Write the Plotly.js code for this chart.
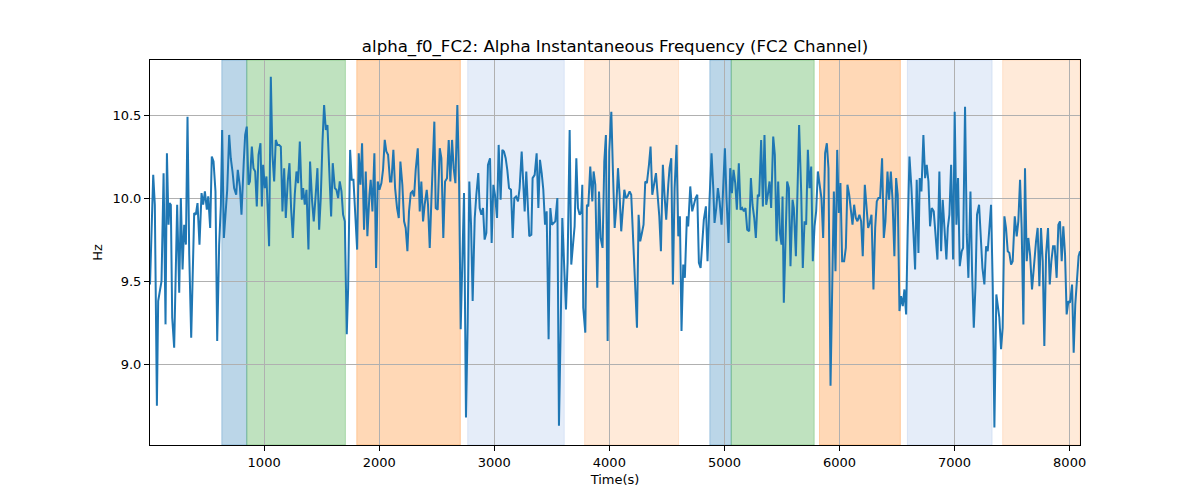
<!DOCTYPE html>
<html>
<head>
<meta charset="utf-8">
<script src="https://cdn.plot.ly/plotly-3.0.1.min.js"></script>
<style>html,body{margin:0;padding:0;background:#fff;}#chart{width:1200px;height:500px;}</style>
</head>
<body>
<div id="chart"></div>
<script>
// Time (s)
const timeSec = [8,36,50,68,79,108,126,143,155,169,178,189,201,218,244,262,276,291,305,320,334,349,366,392,406,421,438,456,470,485,502,514,531,545,560,577,592,609,624,635,650,667,679,696,710,725,739,757,771,
789,803,823,835,849,864,876,893,907,922,936,951,968,980,991,1006,1020,1029,1043,1058,1072,1087,1101,1116,1130,1145,1159,1174,1188,1205,1220,1234,1249,1266,1281,1295,1310,1327,1339,1353,1368,1385,1399,1417,1431,1446,1463,1478,1492,1507,1521,1536,1550,1564,1582,1596,
1614,1628,1643,1657,1672,1686,1701,1718,1730,1747,1761,1776,1793,1808,1822,1837,1851,1868,1883,1897,1915,1926,1941,1958,1973,1987,2002,2019,2033,2048,2062,2077,2094,2106,2123,2138,2155,2170,2184,2201,2216,2230,2245,2259,2274,2288,2303,2317,2335,2352,2366,2381,2395,2413,2424,
2439,2453,2479,2491,2508,2526,2540,2557,2572,2589,2604,2618,2633,2647,2662,2679,2694,2708,2723,2737,2754,2769,2783,2798,2812,2830,2844,2861,2873,2888,2902,2916,2931,2945,2963,2977,2992,3006,3024,3038,3055,3070,3084,3099,3113,3128,3145,3160,3174,3189,3206,3220,3238,3249,
3264,3278,3293,3304,3322,3333,3351,3368,3383,3397,3412,3426,3441,3455,3472,3487,3501,3516,3530,3548,3562,3577,3591,3608,3623,3637,3655,3669,3684,3698,3713,3727,3742,3756,3765,3773,3791,3805,3817,3834,3852,3863,3878,3895,3910,3924,3941,3956,3970,3985,3999,4017,4031,4046,4060,4075,
4089,4103,4130,4144,4158,4176,4190,4205,4222,4240,4254,4268,4283,4297,4312,4326,4344,4358,4373,4387,4405,4419,4434,4448,4465,4480,4494,4512,4523,4538,4552,4567,4584,4599,4613,4627,4642,4656,4674,4685,4703,4720,4735,4749,4764,4778,4793,4807,4821,4839,4853,4871,4888,4903,
4914,4929,4943,4958,4975,4989,5004,5018,5036,5050,5065,5079,5094,5108,5125,5140,5154,5169,5183,5198,5215,5230,5244,5259,5273,5290,5302,5319,5334,5348,5363,5377,5392,5406,5424,5438,5453,5467,5482,5496,5505,5516,5531,5545,5560,5574,5592,5603,5621,5635,5649,5667,5681,5696,5710,5725,
5739,5754,5768,5783,5797,5812,5826,5843,5858,5875,5890,5904,5922,5936,5951,5965,5980,5994,6008,6023,6040,6055,6069,6084,6098,6113,6127,6142,6156,6173,6188,6202,6220,6234,6249,6263,6278,6295,6310,6324,6338,6353,6370,6385,6399,6417,6431,6446,6460,6477,6492,6506,6521,6535,6550,
6564,6579,6593,6608,6625,6640,6657,6671,6686,6697,6712,6729,6744,6758,6773,6787,6802,6819,6836,6851,6868,6883,6897,6912,6929,6941,6955,6970,6987,7001,7016,7030,7045,7062,7074,7091,7106,7120,7138,7152,7167,7181,7195,7213,7227,7242,7259,7274,7288,7305,7317,7332,7346,7363,7378,
7389,7404,7418,7433,7447,7462,7476,7491,7505,7523,7540,7554,7569,7583,7598,7612,7627,7641,7656,7673,7690,7708,7722,7737,7751,7766,7780,7795,7812,7827,7841,7856,7870,7887,7902,7916,7931,7945,7960,7974,7989,8003,8021,8035,8049,8064,8078,8090];

// Alpha instantaneous frequency (Hz)
const freqHz = [9.48,10.14,9.96,8.75,9.38,9.50,10.15,9.24,10.27,9.84,9.97,9.96,9.28,9.10,9.96,9.43,10.00,9.57,9.84,9.72,10.49,9.66,9.16,9.91,9.90,9.97,9.72,10.03,9.96,10.04,9.93,10.01,9.82,10.25,10.22,10.04,9.14,9.72,9.96,10.41,9.76,9.96,10.05,10.38,10.24,10.16,10.06,10.02,10.17,
10.07,9.90,10.22,10.38,10.43,10.08,10.10,10.31,10.18,10.16,9.95,10.26,10.33,9.95,10.20,10.06,10.13,10.00,9.71,10.73,10.26,10.10,10.35,10.32,10.32,10.31,9.92,10.18,9.88,10.10,10.21,9.94,9.76,10.02,10.16,10.09,10.34,9.99,10.06,9.96,10.05,9.69,10.22,9.98,9.86,10.00,10.18,9.81,10.00,10.34,10.56,10.41,10.44,10.20,9.89,10.21,
10.06,10.05,10.00,10.10,10.04,9.90,9.86,9.18,9.46,10.29,10.11,10.11,9.92,9.69,10.27,10.08,10.33,9.81,10.16,9.77,10.02,10.11,9.92,10.27,9.58,10.10,10.05,10.09,10.17,10.35,10.28,10.26,10.10,10.10,10.29,10.06,9.94,9.88,10.22,10.08,9.86,9.82,9.68,9.92,10.03,10.04,10.01,10.17,10.30,9.92,10.10,9.86,9.96,10.05,9.96,
9.70,9.98,10.46,9.94,9.93,10.30,10.24,9.76,10.10,10.12,10.35,10.10,10.35,10.18,10.09,10.56,10.10,9.21,9.58,10.03,8.68,9.26,10.10,9.84,9.38,9.88,10.02,10.15,9.94,9.90,9.94,9.75,9.79,10.20,10.24,9.73,10.08,10.02,9.88,10.32,9.99,10.29,10.28,10.24,10.17,10.06,10.05,9.76,10.00,10.01,9.98,10.06,10.28,10.10,
9.92,10.16,9.94,9.77,9.78,10.12,10.14,10.27,9.94,10.23,10.15,10.05,9.84,9.92,9.15,9.94,9.84,9.85,9.86,10.00,8.63,9.22,9.88,9.58,9.33,9.61,10.41,9.60,9.75,9.83,10.24,9.94,9.90,9.92,10.08,9.34,9.19,9.96,9.95,10.19,9.98,10.16,10.08,9.46,10.04,9.76,9.70,10.22,10.38,9.14,10.28,10.52,10.16,9.82,9.94,10.18,
10.02,9.80,10.05,10.00,10.01,10.04,10.02,9.78,9.56,9.22,9.90,9.74,9.79,9.84,10.10,10.09,10.20,10.31,10.02,10.08,10.15,10.02,9.89,9.68,10.20,10.01,9.87,10.08,10.18,10.24,9.48,10.06,10.32,9.77,9.89,9.20,9.60,9.52,9.89,9.83,10.07,9.92,9.97,10.00,10.02,9.61,9.58,9.76,9.87,9.95,9.62,10.00,10.27,10.06,
9.85,9.94,10.06,9.98,9.84,10.06,10.30,10.00,9.73,10.18,10.03,10.17,10.09,9.93,10.21,9.93,9.94,9.92,9.94,9.81,9.80,10.12,9.96,9.88,9.76,10.02,10.01,10.35,9.95,10.38,9.96,10.02,10.10,9.94,10.37,10.26,9.74,10.10,9.79,9.72,10.01,9.37,9.81,10.10,10.06,9.59,9.99,9.94,9.65,10.10,10.44,10.04,9.58,9.86,9.84,10.29,
10.06,10.19,9.62,9.83,9.92,10.16,10.08,10.00,9.76,10.27,10.33,10.18,8.87,9.60,10.04,9.56,10.29,9.91,10.09,9.62,9.62,9.70,10.08,10.02,9.94,9.84,9.96,9.88,9.86,9.90,9.86,9.65,10.08,9.97,9.82,9.85,9.90,9.45,9.82,9.98,10.00,10.00,10.24,9.76,9.86,10.16,9.99,10.16,10.00,9.65,10.12,10.02,9.32,9.41,9.35,
9.45,9.30,9.82,10.25,10.06,9.86,9.57,10.11,9.67,10.12,10.04,10.38,10.12,10.20,10.10,9.83,9.94,9.92,9.76,9.63,10.16,9.68,9.99,9.82,9.63,9.82,9.90,10.20,9.63,10.52,9.84,10.12,9.59,9.68,9.70,10.55,9.78,9.52,10.04,9.56,9.22,9.46,9.90,9.96,9.76,9.58,9.48,9.71,9.68,9.82,9.96,9.46,8.62,9.42,9.34,
9.28,9.09,9.22,9.89,9.82,9.68,9.67,9.60,9.62,9.89,9.77,9.86,10.11,9.82,9.24,10.18,9.62,9.76,9.66,9.45,9.62,9.74,9.82,9.47,9.82,9.62,9.11,9.66,9.82,9.48,9.62,9.71,9.71,9.52,9.84,9.86,9.62,9.83,9.66,9.30,9.38,9.37,9.48,9.07,9.36,9.50,9.65,9.68];

// Shaded epochs
const bandStart = [632, 849, 1805, 2769, 3785, 4873, 5059, 5826, 6590, 7418];
const bandEnd   = [849, 1706, 2705, 3608, 4601, 5059, 5780, 6529, 7326, 8090];
const bandColor = [
  'rgba(31,119,180,0.3)', 'rgba(44,160,44,0.3)', 'rgba(255,127,14,0.3)', 'rgba(100,149,220,0.17)', 'rgba(255,160,80,0.22)',
  'rgba(31,119,180,0.3)', 'rgba(44,160,44,0.3)', 'rgba(255,127,14,0.3)', 'rgba(100,149,220,0.17)', 'rgba(255,160,80,0.22)'
];

const xTicks = [1000, 2000, 3000, 4000, 5000, 6000, 7000, 8000];
const yTicks = [9.0, 9.5, 10.0, 10.5];

const shapes = bandStart.map((s, i) => ({
  type: 'rect', xref: 'x', yref: 'paper', x0: s, x1: bandEnd[i], y0: 0, y1: 1,
  fillcolor: bandColor[i], line: {color: bandColor[i], width: 1}, layer: 'below'
}));

const trace = {
  x: timeSec, y: freqHz, type: 'scatter', mode: 'lines',
  line: {color: '#1f77b4', width: 2}, hoverinfo: 'x+y'
};

const font = {family: 'DejaVu Sans, sans-serif', color: '#000'};

const layout = {
  width: 1200, height: 500,
  margin: {l: 150, r: 120, t: 60, b: 55},
  paper_bgcolor: '#fff', plot_bgcolor: 'rgba(0,0,0,0)',
  showlegend: false,
  title: {text: 'alpha_f0_FC2: Alpha Instantaneous Frequency (FC2 Channel)', x: 0.5125, xanchor: 'center', y: 0.908, yanchor: 'middle',
          font: Object.assign({size: 16.6}, font)},
  xaxis: {
    range: [8, 8090], tickvals: xTicks, ticktext: xTicks.map(String),
    showgrid: true, gridcolor: '#b0b0b0', gridwidth: 1,
    showline: true, linecolor: '#000', linewidth: 1, mirror: true,
    ticks: 'outside', ticklen: 5, tickcolor: '#000', tickwidth: 1,
    tickfont: Object.assign({size: 13}, font), zeroline: false,
    title: {text: 'Time(s)', font: Object.assign({size: 13}, font), standoff: 6}
  },
  yaxis: {
    range: [8.514, 10.831], tickvals: yTicks, ticktext: ['9.0', '9.5', '10.0', '10.5'],
    showgrid: true, gridcolor: '#b0b0b0', gridwidth: 1,
    showline: true, linecolor: '#000', linewidth: 1, mirror: true,
    ticks: 'outside', ticklen: 5, tickcolor: '#000', tickwidth: 1,
    tickfont: Object.assign({size: 13}, font), zeroline: false,
    title: {text: 'Hz', font: Object.assign({size: 13}, font), standoff: 6}
  },
  shapes: shapes
};

Plotly.newPlot('chart', [trace], layout, {displayModeBar: false, staticPlot: true});
</script>
</body>
</html>
